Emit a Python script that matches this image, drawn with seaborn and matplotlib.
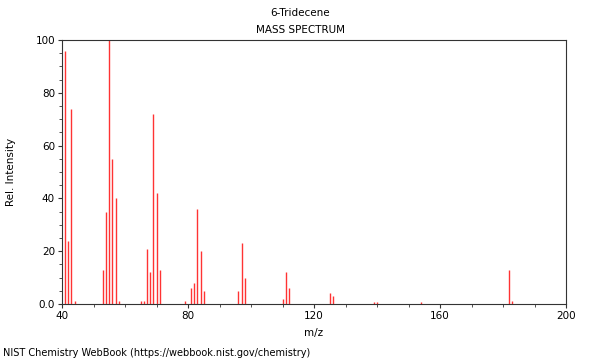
import matplotlib
matplotlib.use("Agg")
import matplotlib.pyplot as plt
import seaborn as sns
import pandas as pd
from matplotlib.ticker import MultipleLocator, FixedLocator

mz = [41, 42, 43, 44, 53, 54, 55, 56, 57, 58, 65, 66, 67, 68, 69, 70, 71,
      79, 81, 82, 83, 84, 85, 96, 97, 98, 110, 111, 112, 125, 126,
      139, 140, 154, 182, 183]
intensity = [96, 24, 74, 1, 13, 35, 100, 55, 40, 1, 1, 1, 21, 12, 72, 42, 13,
             1, 6, 8, 36, 20, 5, 5, 23, 10, 2, 12, 6, 4, 3,
             0.8, 0.7, 0.6, 13, 1]

title = "6-Tridecene"
subtitle = "MASS SPECTRUM"
x_label = "m/z"
y_label = "Rel. Intensity"
footer = "NIST Chemistry WebBook (https://webbook.nist.gov/chemistry)"
y_ticks = [0, 20, 40, 60, 80, 100]
y_tick_labels = ["0.0", "20", "40", "60", "80", "100"]
x_ticks = [40, 80, 120, 160, 200]

df = pd.DataFrame({"mz": mz, "intensity": intensity})

sns.set_theme(style="ticks")
plt.rcParams["font.family"] = ["DejaVu Sans"]
plt.rcParams["text.color"] = "black"
plt.rcParams["axes.labelcolor"] = "black"

fig = plt.figure(figsize=(6, 3.6), dpi=100)
ax = fig.add_axes([62/600, 56/360, (566-62)/600, (304-40)/360])

ax.vlines(df["mz"], 0, df["intensity"], color="#ff3333", linewidth=1.0)

ax.set_xlim(40, 200)
ax.set_ylim(0, 100)
ax.xaxis.set_major_locator(FixedLocator(x_ticks))
ax.xaxis.set_minor_locator(MultipleLocator(10))
ax.yaxis.set_major_locator(FixedLocator(y_ticks))
ax.set_yticklabels(y_tick_labels)
ax.yaxis.set_minor_locator(MultipleLocator(5))

fs = 7.5
ax.tick_params(which="major", direction="out", length=3, width=0.8, labelsize=fs, colors="#333333", labelcolor="black", pad=2)
ax.tick_params(which="minor", direction="out", length=2, width=0.6, colors="#333333")
for s in ax.spines.values():
    s.set_visible(True)
    s.set_color("#333333")
    s.set_linewidth(0.8)

ax.set_xlabel(x_label, fontsize=fs, labelpad=5)
ax.set_ylabel(y_label, fontsize=fs, labelpad=14)

fig.text(0.5, 1 - 13/360, title, ha="center", va="center", fontsize=fs)
fig.text(0.5, 1 - 30/360, subtitle, ha="center", va="center", fontsize=fs)
fig.text(3/600, 1 - 353/360, footer, ha="left", va="center", fontsize=7.05)

fig.savefig("out.png", dpi=100)
